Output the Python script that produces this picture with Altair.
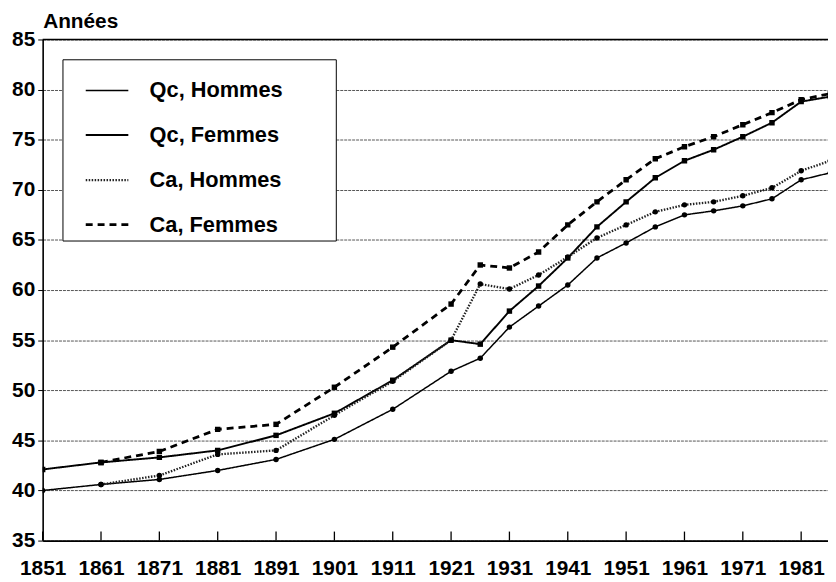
import altair as alt
import pandas as pd

# ---- data ----
years = [1851, 1861, 1871, 1881, 1891, 1901, 1911, 1921, 1926, 1931, 1936,
         1941, 1946, 1951, 1956, 1961, 1966, 1971, 1976, 1981, 1986]
ca_years = years[1:]

qc_hommes = [40.0, 40.6, 41.1, 42.0, 43.1, 45.1, 48.1, 51.9, 53.2, 56.3, 58.4,
             60.5, 63.2, 64.7, 66.3, 67.5, 67.9, 68.4, 69.1, 71.0, 71.7]
qc_femmes = [42.1, 42.8, 43.3, 44.0, 45.5, 47.7, 51.0, 55.0, 54.6, 57.9, 60.4,
             63.2, 66.3, 68.8, 71.2, 72.9, 74.0, 75.3, 76.7, 78.8, 79.3]
ca_hommes = [40.6, 41.5, 43.6, 44.0, 47.5, 50.9, 55.0, 60.6, 60.1, 61.5,
             63.3, 65.2, 66.5, 67.8, 68.5, 68.8, 69.4, 70.2, 71.9, 72.9]
ca_femmes = [42.8, 43.9, 46.1, 46.6, 50.3, 54.3, 58.6, 62.5, 62.2, 63.8,
             66.5, 68.8, 71.0, 73.1, 74.3, 75.3, 76.5, 77.7, 79.0, 79.6]

series = ["Qc, Hommes", "Qc, Femmes", "Ca, Hommes", "Ca, Femmes"]
tick_years = list(range(1851, 1982, 10))
y_ticks = [35, 40, 45, 50, 55, 60, 65, 70, 75, 80, 85]

rows = []
for name, yrs, vals in zip(series, [years, years, ca_years, ca_years],
                           [qc_hommes, qc_femmes, ca_hommes, ca_femmes]):
    rows += [{"annee": a, "esperance": v, "serie": name} for a, v in zip(yrs, vals)]
df = pd.DataFrame(rows)

ticks_df = pd.DataFrame({"annee": tick_years,
                         "esperance": [35] * len(tick_years),
                         "haut": [35.9] * len(tick_years)})
top_df = pd.DataFrame({"esperance": [85]})

FONT = "Liberation Sans"
WEIGHT = "bold"

x_enc = alt.X(
    "annee:Q",
    scale=alt.Scale(domain=[1851, 1985.6], nice=False, zero=False),
    axis=alt.Axis(values=tick_years, format="d", title=None, grid=False,
                  tickSize=0, labelPadding=17, labelFontSize=21, labelFont=FONT,
                  labelFontWeight=WEIGHT,
                  labelColor="black", domainColor="black", domainWidth=1.6,
                  labelFlush=False, labelOverlap=False),
)
y_enc = alt.Y(
    "esperance:Q",
    scale=alt.Scale(domain=[35, 85], nice=False, zero=False),
    axis=alt.Axis(values=y_ticks, title="Années", titleAngle=0, titleX=0, titleY=-12,
                  titleAlign="left", titleBaseline="alphabetic", titleFontSize=21,
                  titleFont=FONT, titleFontWeight=WEIGHT, titleColor="black",
                  labelFontSize=21, labelFont=FONT, labelFontWeight=WEIGHT,
                  labelColor="black",
                  labelPadding=3, tickSize=5, tickColor="black", tickWidth=1,
                  domainColor="black", domainWidth=1.6,
                  grid=True, gridColor="#555555", gridDash=[3, 1], gridWidth=1),
)

blank = "\u2800" * 3
legend = alt.Legend(
    orient="none", legendX=20, legendY=20,
    title="\u00a0", titleFontSize=2, titlePadding=2,
    padding=5, symbolType="stroke", symbolSize=1849, symbolOffset=17,
    labelOffset=20, labelFontSize=22, labelFont=FONT, labelFontWeight=WEIGHT,
    labelColor="black", labelLimit=400,
    strokeColor="black", fillColor="white", rowPadding=11,
    labelExpr="datum.label + '" + blank + "'",
)

lines = alt.Chart(df).mark_line(clip=True).encode(
    x=x_enc,
    y=y_enc,
    color=alt.Color("serie:N", scale=alt.Scale(domain=series,
                    range=["black", "black", "#222222", "black"]), legend=legend),
    strokeDash=alt.StrokeDash("serie:N", scale=alt.Scale(domain=series,
                    range=[[1, 0], [1, 0], [1.5, 1.5], [7, 5]]), legend=legend),
    strokeWidth=alt.StrokeWidth("serie:N", scale=alt.Scale(domain=series,
                    range=[1.5, 2.8, 1.0, 2.2]), legend=legend),
    detail="serie:N",
)

pts_base = alt.Chart(df)
points_h = pts_base.transform_filter(
    alt.FieldOneOfPredicate(field="serie", oneOf=["Qc, Hommes", "Ca, Hommes"])
).mark_point(filled=True, size=30, opacity=1, shape="circle", clip=True,
             color="black").encode(x="annee:Q", y="esperance:Q")
points_f = pts_base.transform_filter(
    alt.FieldOneOfPredicate(field="serie", oneOf=["Qc, Femmes", "Ca, Femmes"])
).mark_point(filled=True, size=30, opacity=1, shape="square", clip=True,
             color="black").encode(x="annee:Q", y="esperance:Q")

inner_ticks = alt.Chart(ticks_df).mark_rule(color="black", strokeWidth=1.3).encode(
    x="annee:Q", y="esperance:Q", y2="haut:Q",
)

top_line = alt.Chart(top_df).mark_rule(color="black", strokeWidth=1.3).encode(
    y="esperance:Q",
)

chart = alt.layer(top_line, inner_ticks, lines, points_h, points_f).properties(
    width=793, height=506,
    autosize=alt.AutoSizeParams(type="none"),
    padding={"left": 35, "top": 29, "right": 0, "bottom": 37},
).configure_view(stroke=None).configure_legend(strokeWidth=1.8).configure(
    background="white")

chart.save("out.html", embed_options={"renderer": "svg", "actions": False})
